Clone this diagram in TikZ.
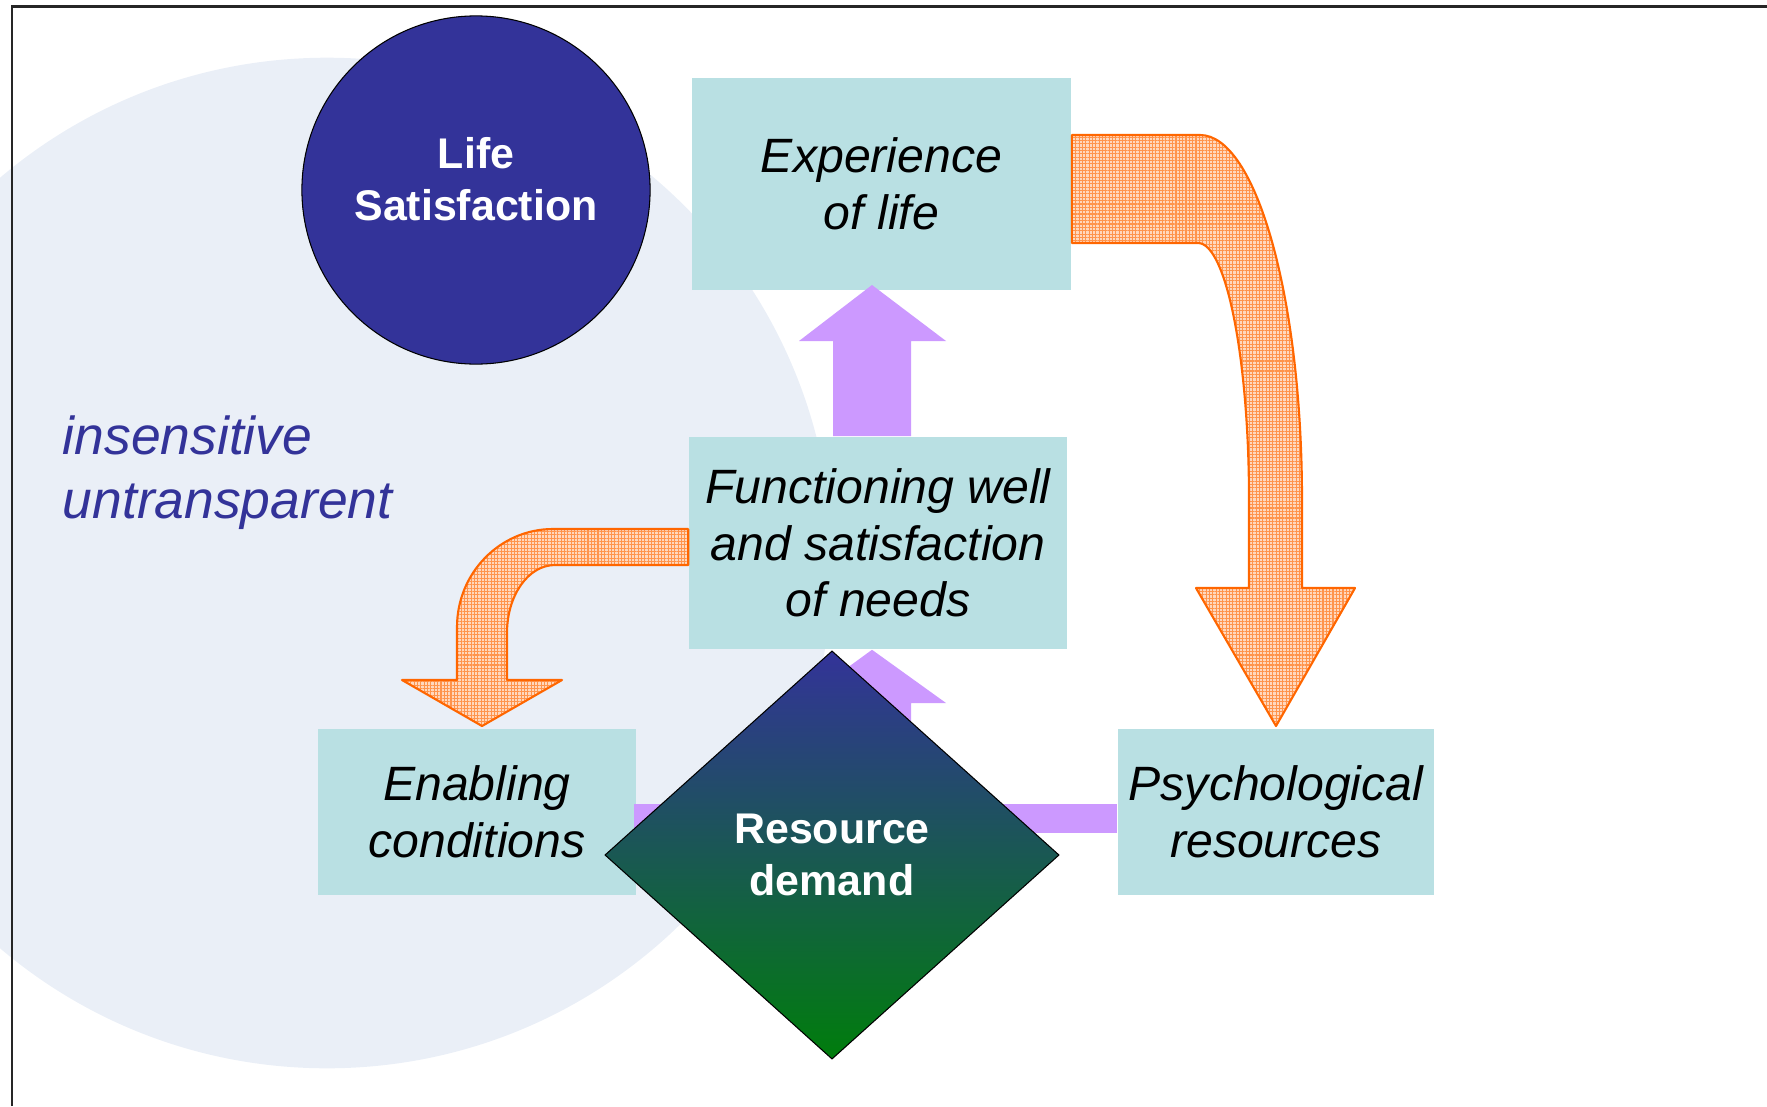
\documentclass[tikz,border=0pt]{standalone}
\usepackage{fontspec}
\setmainfont{Liberation Sans}
\usetikzlibrary{shapes, shapes.geometric, calc, patterns.meta}
\definecolor{BoxTeal}{RGB}{185,224,227}
\definecolor{LifeBlue}{RGB}{51,51,153}
\definecolor{HaloBlue}{RGB}{234,239,247}
\definecolor{ArrowLilac}{RGB}{204,153,255}
\definecolor{ArrowOrange}{RGB}{255,102,0}
\definecolor{OrangePale}{RGB}{255,216,190}
\definecolor{DemandTeal}{RGB}{37,95,112}
\definecolor{DemandGreen}{RGB}{0,125,12}

\begin{document}
\begin{tikzpicture}[x=0.01cm, y=-0.01cm,
    box/.style={shape=rectangle, fill=BoxTeal, align=center, inner sep=0pt,
        font=\fontsize{13.7}{16.1}\selectfont\itshape},
    bold white/.style={text=white, align=center, inner sep=0pt,
        font=\fontsize{12.2}{14.8}\selectfont\bfseries},
    orangearrow/.style={draw=ArrowOrange, line width=0.6pt, line join=round,
        preaction={fill=OrangePale},
        pattern={Hatch[angle=0, distance=0.95pt, line width=0.3pt]},
        pattern color=ArrowOrange!70},
    purplearrow/.style={fill=ArrowLilac}]
    \useasboundingbox (0,0) rectangle (1767,1106);

    % halo and frame
    \fill[HaloBlue] (327,563) circle [radius=5.05cm];
    \draw[line width=0.6pt, black!85] (12,1106) -- (12,6.5) -- (1767,6.5);

    \node[anchor=west, inner sep=0pt, align=left, text=LifeBlue,
        font=\fontsize{15.2}{18.2}\selectfont\itshape] (moods) at (62,473)
        {insensitive\\untransparent};

    \node[box, minimum width=3.79cm, minimum height=2.12cm] (exp)  at (881.5,184) {Experience\\of life};
    \node[box, minimum width=3.78cm, minimum height=2.12cm] (func) at (878,543) {Functioning well\\and satisfaction\\of needs};
    \node[box, minimum width=3.18cm, minimum height=1.66cm] (enab) at (477,812) {Enabling\\conditions};
    \node[box, minimum width=3.16cm, minimum height=1.66cm] (psy)  at (1276,812) {Psychological\\resources};

    \node[shape=circle, draw=black, line width=0.3pt, fill=LifeBlue, minimum size=3.48cm,
        bold white, text depth=0.22cm] (life) at (476,190) {Life\\Satisfaction};

    % purple arrows
    \fill[purplearrow] (enab.east |- 0,804) ++(-3,0) rectangle (psy.west |- 0,833);
    \fill[purplearrow] (833,0 |- func.north) -- (833,341) -- (799,341) -- (872,285)
        -- (946,341) -- (911,341) -- (911,0 |- func.north) -- cycle;
    \fill[purplearrow] (833,780) -- (833,703) -- (799,703) -- (872,0 |- func.south)
        -- (946,703) -- (911,703) -- (911,780) -- cycle;

    % orange arrows
    \draw[orangearrow] (exp.east |- 0,135) -- (1200,135)
        .. controls (1256,135) and (1302,298) .. (1302,500) -- (1302,588)
        -- (1355,588) -- (1276,726) -- (1196,588) -- (1249,588) -- (1249,500)
        .. controls (1249,358) and (1226,243) .. (1198,243) -- (exp.east |- 0,243) -- cycle;
    \draw[orangearrow] (func.west |- 0,529) -- (553,529)
        .. controls (500,529) and (457,573) .. (457,627) -- (457,680)
        -- (402,680) -- (482,726) -- (562,680) -- (507,680) -- (507,633)
        .. controls (507,595) and (528.5,565) .. (555,565) -- (func.west |- 0,565) -- cycle;

    \node[shape=diamond, draw=black, line width=0.3pt, top color=LifeBlue, middle color=DemandTeal,
        bottom color=DemandGreen, minimum width=4.54cm, minimum height=4.08cm,
        bold white] (demand) at (832,855) {Resource\\demand};
\end{tikzpicture}
\end{document}
